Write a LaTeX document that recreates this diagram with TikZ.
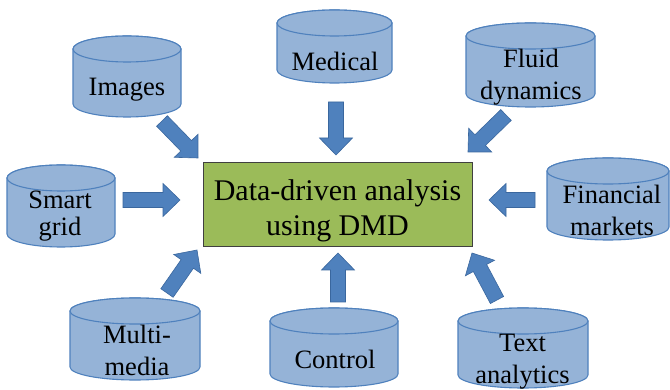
\documentclass[tikz,border=0pt]{standalone}
\usepackage{fontspec}
\setmainfont{Liberation Serif}
\newfontfamily\lserif{Liberation Serif}
\usetikzlibrary{calc}
\definecolor{cylfillc}{HTML}{95B3D7}
\definecolor{cyldrawc}{HTML}{4F81BD}
\definecolor{arrfillc}{HTML}{4F81BD}
\definecolor{arrdrawc}{HTML}{3A679E}
\definecolor{boxfillc}{HTML}{9BBB59}
\definecolor{boxdrawc}{HTML}{404040}
\tikzset{
  cylstyle/.style={fill=cylfillc, draw=cyldrawc, line width=1.1pt},
  blk/.style={fill=arrfillc, draw=arrdrawc, line width=0.6pt, line join=miter},
  cyltext/.style={align=center, inner sep=0pt, font=\lserif\fontsize{26.5}{32}\selectfont},
  dmdbox/.style={fill=boxfillc, draw=boxdrawc, line width=1pt,
    minimum width=269pt, minimum height=84pt, inner sep=0pt},
  dmdtext/.style={align=center, inner sep=0pt, font=\lserif\fontsize{30}{35}\selectfont}
}
% #1 cx, #2 top, #3 bottom, #4 half width
\newcommand\dbcyl[4]{%
  \path[cylstyle] (#1-#4,#2+13) -- (#1-#4,#3-13)
     arc[start angle=180,end angle=360,x radius=#4pt,y radius=13pt]
     -- (#1+#4,#2+13)
     arc[start angle=0,end angle=180,x radius=#4pt,y radius=13pt] -- cycle;
  \path[cylstyle] (#1,#2+13) ellipse[x radius=#4pt,y radius=13pt];
}
% block arrow from tail #1 to tip #2
\newcommand\blockarrow[2]{%
  \coordinate (tmpn) at ($(#2)!17pt!(#1)$);
  \path[blk] ($(#1)!7.5pt!90:(#2)$) -- ($(tmpn)!7.5pt!-90:(#1)$)
    -- ($(tmpn)!16.5pt!-90:(#1)$) -- (#2)
    -- ($(tmpn)!16.5pt!90:(#1)$) -- ($(tmpn)!7.5pt!90:(#1)$)
    -- ($(#1)!7.5pt!-90:(#2)$) -- cycle;
}
\begin{document}
\begin{tikzpicture}[x=1pt,y=-1pt]
\useasboundingbox (0,0) rectangle (670,390);
\fill[white] (0,0) rectangle (670,390);

% cylinders
\dbcyl{127}{36}{117}{54}
\dbcyl{334.5}{10}{83}{57.5}
\dbcyl{530.5}{23}{107}{64.5}
\dbcyl{61}{165}{247}{54}
\dbcyl{608}{158}{240}{61}
\dbcyl{135}{298}{380}{65}
\dbcyl{334}{308}{387}{64}
\dbcyl{523}{308}{388}{65}

% texts
\node[cyltext] (images) at (127,90) {Images};
\node[cyltext] (medical) at (335,61) {Medical};
\node[cyltext] (fluid) at (531,77) {Fluid\\dynamics};
\node[cyltext, font=\lserif\fontsize{26.5}{27}\selectfont] (smart) at (60,216) {Smart\\grid};
\node[cyltext] (fin) at (612,210) {Financial\\markets};
\node[cyltext] (multi) at (137,350) {Multi-\\media};
\node[cyltext] (control) at (335,359) {Control};
\node[cyltext] (textan) at (522.5,362) {Text\\analytics};

% center box
\node[dmdbox] (dmd) at (337.5,205) {};
\node[dmdtext] (dmdlabel) at (337.5,211) {Data-driven analysis\\using DMD};

% arrow end points
\coordinate (t1) at (162,121); \coordinate (h1) at (198,158);
\coordinate (t2) at (336,102); \coordinate (h2) at (336,155);
\coordinate (t3) at (506,115); \coordinate (h3) at (468,152);
\coordinate (t4) at (123,200); \coordinate (h4) at (180,200);
\coordinate (t5) at (535,200); \coordinate (h5) at (489,200);
\coordinate (t6) at (167,293); \coordinate (h6) at (197,250);
\coordinate (t7) at (338,302); \coordinate (h7) at (338,253);
\coordinate (t8) at (497,300); \coordinate (h8) at (472,253);

\blockarrow{t1}{h1}
\blockarrow{t2}{h2}
\blockarrow{t3}{h3}
\blockarrow{t4}{h4}
\blockarrow{t5}{h5}
\blockarrow{t6}{h6}
\blockarrow{t7}{h7}
\blockarrow{t8}{h8}
\end{tikzpicture}
\end{document}
